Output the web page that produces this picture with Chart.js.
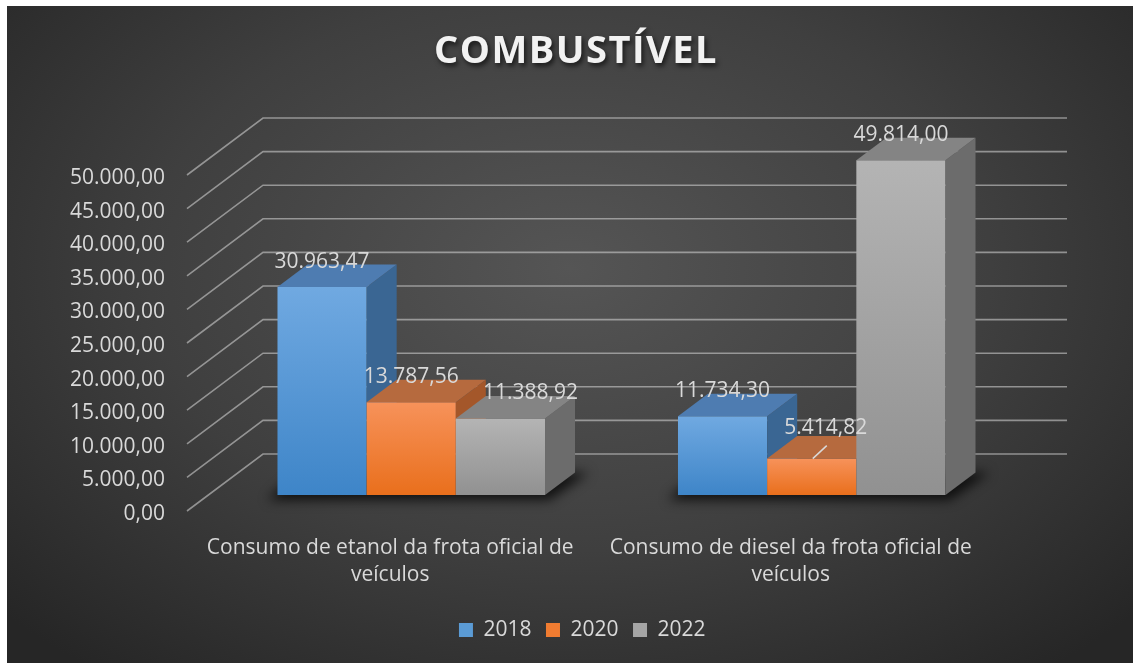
<!DOCTYPE html>
<html>
<head>
<meta charset="utf-8">
<title>Combustível</title>
<script src="https://cdn.jsdelivr.net/npm/chart.js@4/dist/chart.umd.min.js"></script>
<style>
  html, body { margin: 0; padding: 0; background: #fff; }
  #wrap {
    position: absolute; left: 7px; top: 6px; width: 1126px; height: 657px;
    background: radial-gradient(ellipse 68% 78% at 50% 40%, #555555 0%, #3f3f3f 55%, #262626 100%);
  }
  canvas { display: block; }
</style>
</head>
<body>
<div id="wrap"><canvas id="fuelChart" width="1126" height="657"></canvas></div>
<script>
const chartTitle = 'COMBUSTÍVEL';
const categories = [
    ['Consumo de etanol da frota oficial de', 'veículos'],
    ['Consumo de diesel da frota oficial de', 'veículos']
];
const years = ['2018', '2020', '2022'];
const values2018 = [30963.47, 11734.30];
const values2020 = [13787.56, 5414.82];
const values2022 = [11388.92, 49814.00];
const yMin = 0;
const yMax = 50000;
const yStep = 5000;

const FONT = "'Open Sans', 'Noto Sans', sans-serif";
const TEXT = '#d9d9d9';
// depth of the fake 3d: bar thickness and how far the back wall sits
const DX = 30, DY = 22.5;
const WALL_DY = 41, WALL_LEFT = 52, WALL_RIGHT = 55, FLOOR_DX = 76, FLOOR_DY = 57;

const palette = [
    { top: '#70a9e1', bottom: '#3e85c8', lid: '#4e7cb1', side: '#3a6693', legend: '#5b9bd5' },
    { top: '#f7925a', bottom: '#e96f1c', lid: '#b66a3e', side: '#a4572a', legend: '#f07c31' },
    { top: '#b4b4b4', bottom: '#919191', lid: '#848484', side: '#6c6c6c', legend: '#a5a5a5' }
];

// small hand nudges for labels that Excel moved to avoid overlaps
const labelNudge = { '2-0': [30, 0], '1-1': [14, -6] };

function fmt(v) {
    const parts = Math.abs(v).toFixed(2).split('.');
    return parts[0].replace(/\B(?=(\d{3})+(?!\d))/g, '.') + ',' + parts[1];
}

function frontFill(idx) {
    return context => {
        const chart = context.chart;
        const ys = chart.scales.y;
        if (!chart.chartArea || !ys || context.type !== 'data') return palette[idx].legend;
        const top = ys.getPixelForValue(context.raw);
        const base = ys.getPixelForValue(0);
        const g = chart.ctx.createLinearGradient(0, top, 0, base);
        g.addColorStop(0, palette[idx].top);
        g.addColorStop(1, palette[idx].bottom);
        return g;
    };
}

function poly(ctx, pts) {
    ctx.beginPath();
    ctx.moveTo(pts[0][0], pts[0][1]);
    for (let i = 1; i < pts.length; i++) ctx.lineTo(pts[i][0], pts[i][1]);
    ctx.closePath();
    ctx.fill();
}

const wallPlugin = {
    id: 'wall',
    beforeDatasetsDraw(chart) {
        const ctx = chart.ctx;
        const ys = chart.scales.y;
        const area = chart.chartArea;
        const xl = area.left + WALL_LEFT, xr = area.right + WALL_RIGHT;
        ctx.save();
        ctx.strokeStyle = 'rgba(205,205,205,0.6)';
        ctx.lineWidth = 1.6;
        ys.ticks.forEach(t => {
            const yb = ys.getPixelForValue(t.value) - WALL_DY;
            ctx.beginPath();
            ctx.moveTo(xl - FLOOR_DX, yb + FLOOR_DY);
            ctx.lineTo(xl, yb);
            ctx.lineTo(xr, yb);
            ctx.stroke();
        });

        // soft shadow on the floor under each group
        const first = chart.getDatasetMeta(0).data;
        const last = chart.getDatasetMeta(years.length - 1).data;
        ctx.filter = 'blur(6px)';
        ctx.fillStyle = 'rgba(0,0,0,0.75)';
        first.forEach((bar, i) => {
            const w = bar.width;
            const l = bar.x - w / 2 - 10;
            const r = last[i].x + w / 2;
            const b = bar.base;
            poly(ctx, [[l, b + 5], [r + 4, b + 5], [r + DX + 14, b - DY], [l + DX, b - DY]]);
        });
        ctx.restore();
    }
};

// Chart.js paints the last dataset first; the boxes need left-to-right painting
// so each front face hides the side face of its left neighbour.
const boxesPlugin = {
    id: 'boxes',
    beforeDatasetDraw() {
        return false;
    },
    afterDatasetsDraw(chart) {
        const ctx = chart.ctx;
        chart.data.datasets.forEach((ds, di) => {
            const meta = chart.getDatasetMeta(di);
            const pal = palette[di];
            meta.controller.draw();
            ctx.save();
            meta.data.forEach(bar => {
                const { x, y, base, width } = bar.getProps(['x', 'y', 'base', 'width'], true);
                const l = x - width / 2, r = x + width / 2;
                ctx.fillStyle = pal.side;
                poly(ctx, [[r, y], [r + DX, y - DY], [r + DX, base - DY], [r, base]]);
                ctx.fillStyle = pal.lid;
                poly(ctx, [[l, y], [r, y], [r + DX, y - DY], [l + DX, y - DY]]);
            });
            ctx.restore();
        });

        ctx.save();
        ctx.font = '21px ' + FONT;
        ctx.fillStyle = TEXT;
        ctx.textAlign = 'center';
        ctx.textBaseline = 'middle';
        chart.data.datasets.forEach((ds, di) => {
            chart.getDatasetMeta(di).data.forEach((bar, i) => {
                const n = labelNudge[di + '-' + i] || [0, 0];
                const lx = bar.x + n[0], ly = bar.y - 25 + n[1];
                if (n[0] !== 0 && n[1] !== 0) {
                    ctx.strokeStyle = TEXT;
                    ctx.lineWidth = 1.5;
                    ctx.beginPath();
                    ctx.moveTo(bar.x + 1, bar.y);
                    ctx.lineTo(bar.x + 15, bar.y - 13);
                    ctx.stroke();
                }
                ctx.fillText(fmt(ds.data[i]), lx, ly);
            });
        });
        ctx.restore();
    },
    afterDraw(chart) {
        const ctx = chart.ctx;
        ctx.save();
        ctx.font = 'bold 38px ' + FONT;
        ctx.letterSpacing = '1.5px';
        ctx.textAlign = 'center';
        ctx.textBaseline = 'alphabetic';
        ctx.shadowColor = 'rgba(0,0,0,0.65)';
        ctx.shadowBlur = 5;
        ctx.shadowOffsetX = 2;
        ctx.shadowOffsetY = 3;
        ctx.fillStyle = '#f2f2f2';
        ctx.fillText(chartTitle, 569, 57);
        ctx.restore();
    }
};

const seriesValues = [values2018, values2020, values2022];

new Chart(document.getElementById('fuelChart').getContext('2d'), {
    type: 'bar',
    data: {
        labels: categories,
        datasets: years.map((year, idx) => ({
            label: year,
            data: seriesValues[idx],
            backgroundColor: frontFill(idx),
            borderWidth: 0,
            barPercentage: 1,
            categoryPercentage: 0.668
        }))
    },
    options: {
        responsive: false,
        animation: false,
        devicePixelRatio: 1,
        layout: { padding: { top: 153, right: 0, bottom: 12.5, left: 24.5 } },
        plugins: {
            title: { display: false },
            tooltip: { enabled: false },
            legend: {
                position: 'bottom',
                labels: {
                    color: TEXT,
                    font: { family: FONT, size: 21 },
                    boxWidth: 14,
                    boxHeight: 14,
                    padding: 14.5,
                    generateLabels: chart => Chart.defaults.plugins.legend.labels.generateLabels(chart).map(item => ({
                        ...item,
                        fillStyle: palette[item.datasetIndex].legend,
                        strokeStyle: palette[item.datasetIndex].legend,
                        lineWidth: 0
                    }))
                }
            }
        },
        scales: {
            x: {
                grid: { display: false },
                border: { display: false },
                ticks: {
                    color: TEXT,
                    font: { family: FONT, size: 21, lineHeight: 1.3 },
                    padding: 31,
                    labelOffset: -21,
                    maxRotation: 0,
                    autoSkip: false
                },
                afterFit: s => { s.height = 110; }
            },
            y: {
                min: yMin,
                max: yMax,
                grid: { display: false },
                border: { display: false },
                ticks: {
                    stepSize: yStep,
                    color: TEXT,
                    font: { family: FONT, size: 21 },
                    padding: 38,
                    labelOffset: 19,
                    callback: v => fmt(v)
                },
                afterFit: s => { s.width = 204 - 24.5; }
            },
            yRight: {
                position: 'right',
                display: true,
                grid: { display: false },
                border: { display: false },
                ticks: { display: false },
                afterFit: s => { s.width = 121; }
            }
        }
    },
    plugins: [wallPlugin, boxesPlugin]
});
</script>
</body>
</html>
